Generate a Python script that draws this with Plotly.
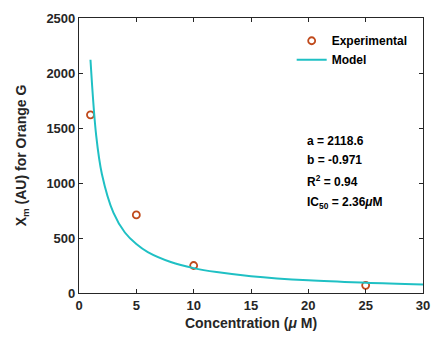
import plotly.graph_objects as go

# Experimental data
conc_exp = [1, 5, 10, 25]
xm_exp = [1620, 710, 250, 70]

# Model curve
conc_model = [1, 1.5, 2, 3, 4, 5, 6, 8, 10, 12, 15, 20, 25, 30]
xm_model = [2120, 1430, 1080, 730, 550, 445, 372, 282, 226, 190, 153, 115, 93, 78]

x_ticks = [0, 5, 10, 15, 20, 25, 30]
y_ticks = [0, 500, 1000, 1500, 2000, 2500]

fit_lines = ["a = 2118.6", "b = -0.971", "R<sup>2</sup> = 0.94", "IC<sub>50</sub> = 2.36<i>μ</i>M"]

font_fam = "Liberation Sans, Arial, sans-serif"

fig = go.Figure()
fig.add_trace(go.Scatter(
    x=conc_exp, y=xm_exp, mode="markers", name="Experimental",
    marker=dict(symbol="circle-open", size=7, color="#C04A1C", line=dict(width=1.8, color="#C04A1C")),
))
fig.add_trace(go.Scatter(
    x=conc_model, y=xm_model, mode="lines", name="Model", line_shape="spline",
    line=dict(color="#1FC0C4", width=2),
))

axis_common = dict(
    showline=True, linecolor="#262626", linewidth=1.2, mirror="ticks",
    ticks="inside", ticklen=4, tickcolor="#262626", tickwidth=1,
    showgrid=False, zeroline=False,
    tickfont=dict(family=font_fam, size=13, color="#262626", weight="bold"),
)

fig.update_xaxes(range=[0, 30], tickvals=x_ticks, **axis_common,
                 title=dict(text="<b>Concentration (<i>μ</i> M)</b>", font=dict(family=font_fam, size=14, color="#262626"), standoff=6))
fig.update_yaxes(range=[0, 2500], tickvals=y_ticks, **axis_common,
                 title=dict(text="<b>X<sub>m</sub> (AU) for Orange G</b>", font=dict(family=font_fam, size=14, color="#262626"), standoff=16))

line_y = [0.553, 0.484, 0.407, 0.327]
for txt, yy in zip(fit_lines, line_y):
    fig.add_annotation(
        x=0.658, y=yy, xref="paper", yref="paper", xanchor="left", yanchor="middle",
        text="<b>" + txt + "</b>", showarrow=False, align="left",
        font=dict(family=font_fam, size=12, color="#000000"),
    )

fig.update_layout(
    width=438, height=340,
    margin=dict(l=79, r=8, t=18, b=47),
    paper_bgcolor="white", plot_bgcolor="white",
    font=dict(family=font_fam, color="#262626"),
    showlegend=True,
    legend=dict(x=0.97, y=0.97, xanchor="right", yanchor="top", bgcolor="rgba(0,0,0,0)",
                font=dict(family=font_fam, size=12, color="#000000", weight="bold"), tracegroupgap=0),
)
fig.write_html("out.html")
